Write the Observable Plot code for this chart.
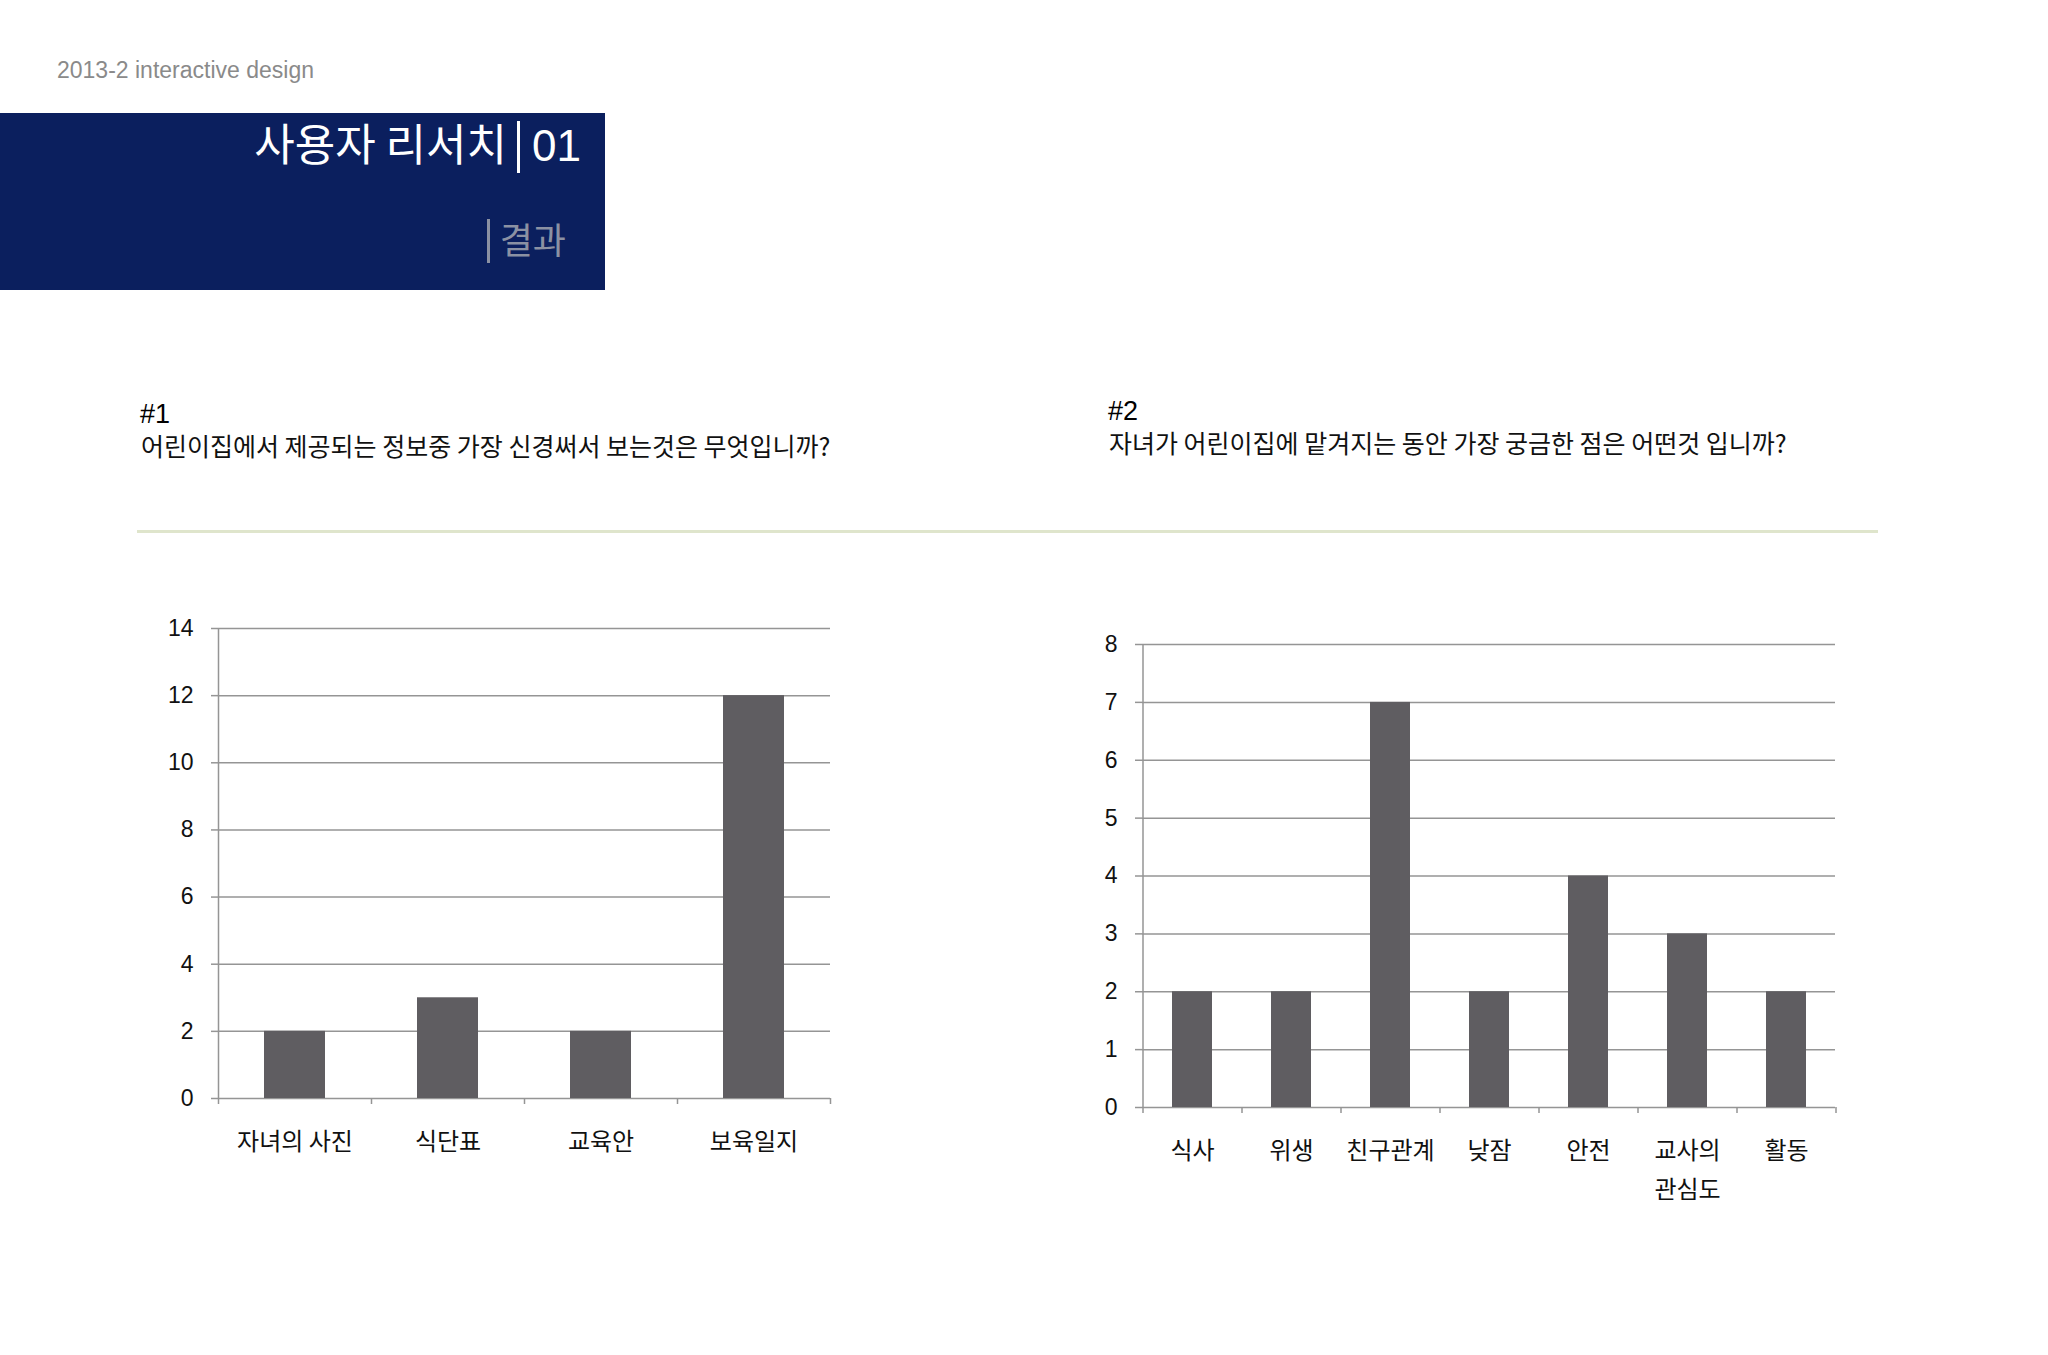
<!DOCTYPE html>
<html>
<head>
<meta charset="utf-8">
<script src="https://cdn.jsdelivr.net/npm/d3@7"></script>
<script src="https://cdn.jsdelivr.net/npm/@observablehq/plot@0.6"></script>
<style>
  html, body { margin: 0; padding: 0; background: #fff; }
  #page { position: relative; width: 2048px; height: 1355px; overflow: hidden; background: #fff;
          font-family: "Liberation Sans", "Noto Sans CJK KR", sans-serif; }
  .abs { position: absolute; white-space: nowrap; }
  #course { left: 57px; top: 57px; font-size: 23px; color: #8a8a8a; line-height: 26px; }
  #box { left: 0; top: 113px; width: 605px; height: 177px; background: #0b1f5e; }
  #title { right: 24px; top: 4px; font-size: 44px; color: #fff; line-height: 50px;
           font-family: "Noto Sans CJK KR", "Liberation Sans", sans-serif; }
  #title .bar { display: inline-block; width: 3px; height: 52px; background: #fff; vertical-align: -12px; margin: 0 12px 0 10px; }
  #title .num { font-family: "Liberation Sans", sans-serif; }
  #sub { right: 39px; top: 104px; font-size: 36px; color: #8b91a3; line-height: 42px;
         font-family: "Noto Sans CJK KR", sans-serif; }
  #sub .bar { display: inline-block; width: 3px; height: 44px; background: #8b91a3; vertical-align: -9px; margin-right: 10px; }
  .qnum { font-size: 27px; color: #000; line-height: 27px; }
  .qtext { font-size: 25px; color: #111; line-height: 26px; font-family: "Noto Sans CJK KR", sans-serif; }
  #rule { left: 137px; top: 530px; width: 1741px; height: 3px; background: #dfe5cc; }
  .chart { position: absolute; }
</style>
</head>
<body>
<div id="page">
  <div id="course" class="abs">2013-2 interactive design</div>
  <div id="box" class="abs">
    <div id="title" class="abs">사용자 리서치<span class="bar"></span><span class="num">01</span></div>
    <div id="sub" class="abs"><span class="bar"></span>결과</div>
  </div>
  <div class="abs qnum" style="left:140px; top:401px;">#1</div>
  <div class="abs qtext" style="left:141px; top:432px;">어린이집에서 제공되는 정보중 가장 신경써서 보는것은 무엇입니까?</div>
  <div class="abs qnum" style="left:1108px; top:398px;">#2</div>
  <div class="abs qtext" style="left:1109px; top:429px;">자녀가 어린이집에 맡겨지는 동안 가장 궁금한 점은 어떤것 입니까?</div>
  <div id="rule" class="abs"></div>
  <div id="chart1" class="chart" style="left:158px; top:608px;"></div>
  <div id="chart2" class="chart" style="left:1082px; top:624px;"></div>
</div>
<script>
// Chart 1 data
const q1Categories = ["자녀의 사진", "식단표", "교육안", "보육일지"];
const q1Values = [2, 3, 2, 12];
const q1YTicks = [0, 2, 4, 6, 8, 10, 12, 14];

// Chart 2 data
const q2Categories = ["식사", "위생", "친구관계", "낮잠", "안전", "교사의 관심도", "활동"];
const q2Labels = ["식사", "위생", "친구관계", "낮잠", "안전", "교사의\n관심도", "활동"];
const q2Values = [2, 2, 7, 2, 4, 3, 2];
const q2YTicks = [0, 1, 2, 3, 4, 5, 6, 7, 8];

const BAR = "#5f5d61";
const GRID = "#959595";
const GW = 1.5;

function makeChart({cats, labels, values, yTicks, yMax, width, height, mt, mb, ml, mr, labelPad}) {
  const data = cats.map((c, i) => ({cat: c, value: values[i]}));
  const n = cats.length;
  const pInner = 0.6, pOuter = 0.3;
  const step = (width - ml - mr) / (n - pInner + 2 * pOuter);
  const fmt = labels ? (d) => labels[cats.indexOf(d)] : (d) => d;
  return Plot.plot({
    width, height,
    marginTop: mt, marginBottom: mb, marginLeft: ml, marginRight: mr,
    style: {background: "transparent", overflow: "visible"},
    x: {domain: cats, paddingInner: pInner, paddingOuter: pOuter, label: null},
    y: {domain: [0, yMax], label: null},
    marks: [
      Plot.ruleY(yTicks, {stroke: GRID, strokeWidth: GW}),
      Plot.barY(data, {x: "cat", y: "value", fill: BAR}),
      Plot.ruleX([cats[0]], {dx: -step / 2, stroke: GRID, strokeWidth: GW}),
      Plot.axisY({ticks: yTicks, tickSize: 7, text: null, stroke: GRID, strokeWidth: GW, label: null}),
      Plot.axisY({ticks: yTicks, tickSize: 0, tickPadding: 25, fontSize: 23, fill: "#111",
                  fontFamily: "Liberation Sans, sans-serif", label: null}),
      Plot.axisX({ticks: cats, tickSize: 6, text: null, dx: -step / 2, stroke: GRID, strokeWidth: GW, label: null}),
      Plot.axisX({ticks: [cats[n - 1]], tickSize: 6, text: null, dx: step / 2, stroke: GRID, strokeWidth: GW, label: null}),
      Plot.axisX({ticks: cats, tickSize: 0, tickPadding: labelPad, tickFormat: fmt, fontSize: 24, fill: "#111",
                  lineHeight: 1.62, fontFamily: "Noto Sans CJK KR, sans-serif", label: null})
    ]
  });
}

document.getElementById("chart1").append(makeChart({
  cats: q1Categories, values: q1Values, yTicks: q1YTicks, yMax: 14,
  width: 682, height: 570, mt: 20, mb: 80, ml: 60, mr: 10, labelPad: 24
}));

document.getElementById("chart2").append(makeChart({
  cats: q2Categories, labels: q2Labels, values: q2Values, yTicks: q2YTicks, yMax: 8,
  width: 763, height: 600, mt: 20, mb: 117, ml: 60, mr: 10, labelPad: 24
}));
</script>
</body>
</html>
